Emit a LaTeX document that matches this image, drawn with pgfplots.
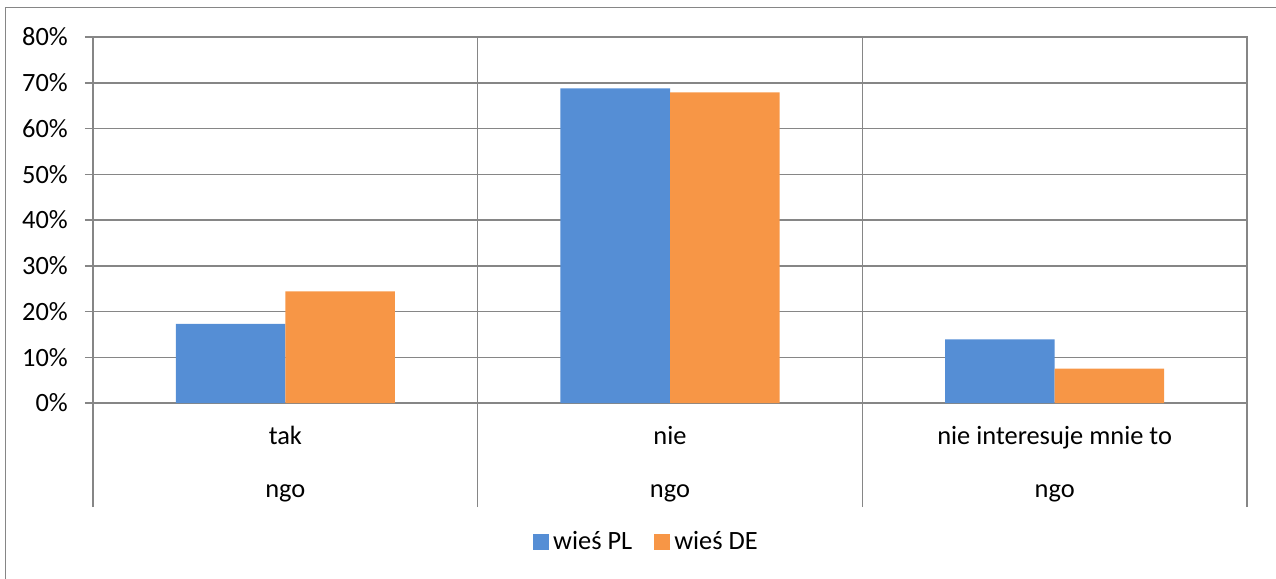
\documentclass[border=0pt]{standalone}
\usepackage{fontspec}
\setmainfont{Carlito}
\usepackage{pgfplots}
\pgfplotsset{compat=1.18}
\definecolor{plblue}{RGB}{85,142,213}
\definecolor{deorange}{RGB}{247,150,70}
\definecolor{gridgray}{RGB}{134,134,134}
\pgfplotstableread{
x pl de
0 17.3 24.4
1 68.8 67.9
2 13.9 7.5
}\datatable
\begin{document}
\fontsize{13.2}{15.8}\selectfont
\begin{tikzpicture}
\path[use as bounding box] (0,0) rectangle (638pt,-289.5pt);
\draw[gridgray, line width=0.5pt] (2.5pt,-291pt) -- (2.5pt,-3.5pt) -- (640pt,-3.5pt);
\begin{axis}[
  at={(46.5pt,-201.5pt)}, anchor=south west,
  scale only axis, width=577pt, height=183pt,
  ymin=0, ymax=80, ytick={0,10,...,80},
  xmin=-0.5, xmax=2.5,
  xtick={0,1,2},
  xticklabels={{tak\\ngo},{nie\\ngo},{nie interesuje mnie to\\ngo}},
  xticklabel style={align=center, font=\fontsize{13.2}{26.5}\selectfont, yshift=-3pt},
  yticklabel={\pgfmathprintnumber{\tick}\%},
  yticklabel style={font=\fontsize{13.2}{15.8}\selectfont, xshift=-4pt},
  /pgf/number format/assume math mode=true,
  ybar=0pt, bar width=54.75pt,
  axis line style={gridgray, line width=0.75pt},
  ymajorgrids, major grid style={gridgray, line width=0.75pt},
  tick align=outside, major tick length=4pt,
  xtick pos=left, ytick pos=left,
  x tick style={draw=none},
  y tick style={gridgray, line width=0.75pt},
  extra x ticks={-0.5,0.5,1.5,2.5},
  extra x tick labels={},
  extra x tick style={major tick length=52pt, xmajorgrids,
    x tick style={draw=gridgray, line width=0.75pt}},
  legend style={at={(0.4805,-0.38)}, anchor=center, draw=none,
    legend columns=2, font=\fontsize{13.2}{15.8}\selectfont,
    /tikz/every even column/.append style={column sep=9pt}},
  legend image code/.code={\draw[#1, draw=none] (0pt,-4pt) rectangle (8pt,4pt);},
]
\addplot[fill=plblue, draw=none] table[x=x, y=pl] {\datatable};
\addplot[fill=deorange, draw=none] table[x=x, y=de] {\datatable};
\legend{wieś PL, wieś DE}
\end{axis}
\end{tikzpicture}
\end{document}
